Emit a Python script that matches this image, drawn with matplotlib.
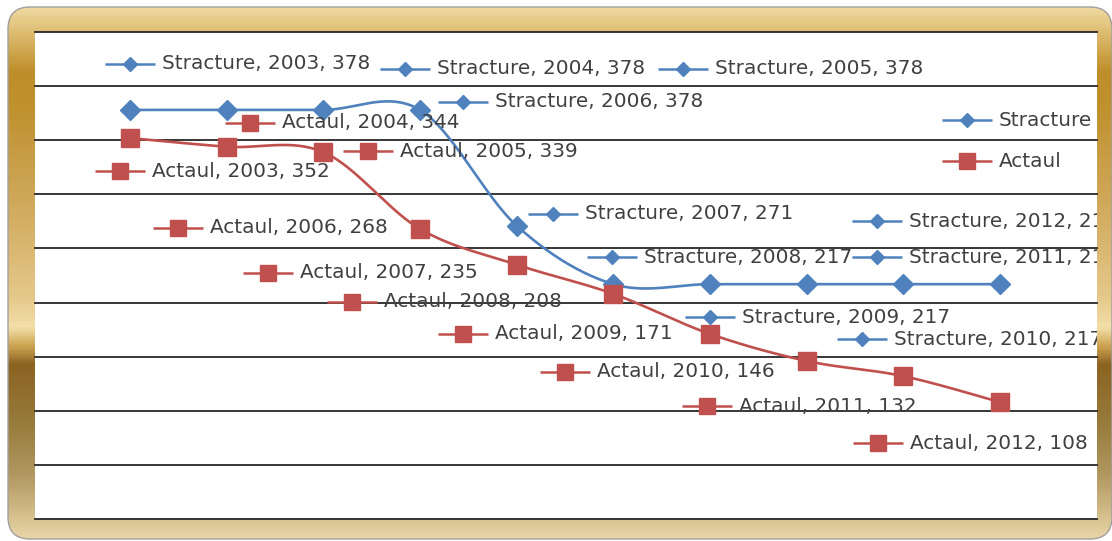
import numpy as np
import matplotlib
matplotlib.use('Agg')
import matplotlib.pyplot as plt
from matplotlib import patches, transforms
from matplotlib.colors import LinearSegmentedColormap

years = ['2003', '2004', '2005', '2006', '2007', '2008', '2009', '2010', '2011', '2012']
stracture = [378, 378, 378, 378, 271, 217, 217, 217, 217, 217]
actaul = [352, 344, 339, 268, 235, 208, 171, 146, 132, 108]

# where each data label key sits, pixels from its point (right, down)
stracture_label_offsets = [(0, -46), (178, -41), (360, -41), (43, -8), (36, -12),
                           (-1, -27), (0, 33), (55, 55), (-26, -27), (-123, -63)]
actaul_label_offsets = [(-10, 33), (23, -24), (45, -1), (-242, -1), (-249, 8),
                        (-261, 8), (-247, 0), (-242, 11), (-196, 30), (-122, 41)]

W, H, DPI = 1112, 541, 100
BLUE, RED = '#4F81BD', '#C0504D'
TXT = '#404040'
FS = 14.4


def smooth(vals, n=40):
    # excel-like smoothed line (catmull-rom bezier)
    p = np.column_stack([np.arange(len(vals)), vals]).astype(float)
    ext = np.vstack([p[0], p, p[-1]])
    t = np.linspace(0, 1, n)[:, None]
    out = []
    for i in range(len(p) - 1):
        p0, p1, p2, p3 = ext[i], ext[i + 1], ext[i + 2], ext[i + 3]
        c1 = p1 + (p2 - p0) / 6
        c2 = p2 - (p3 - p1) / 6
        seg = (1 - t) ** 3 * p1 + 3 * (1 - t) ** 2 * t * c1 + 3 * (1 - t) * t ** 2 * c2 + t ** 3 * p2
        out.append(seg if i == 0 else seg[1:])
    return np.vstack(out).T


def px_shift(dx, dy):
    return transforms.ScaledTranslation(dx / DPI, -dy / DPI, fig.dpi_scale_trans)


def draw_key(ax, x, y, tr, color, marker, ms, text):
    ax.plot(x, y, marker='_', ms=36, mew=1.8, color=color, transform=tr, zorder=4)
    ax.plot(x, y, marker=marker, ms=ms, color=color, mec=color, transform=tr, zorder=5)
    ax.text(x, y, text, transform=tr + px_shift(32, 0), va='center', ha='left',
            fontsize=FS, color=TXT, clip_on=True, zorder=6)


fig = plt.figure(figsize=(W / DPI, H / DPI), dpi=DPI)
fig.patch.set_facecolor('white')

# gold frame
bg = fig.add_axes([0, 0, 1, 1])
bg.set_xlim(0, W)
bg.set_ylim(H, 0)
bg.axis('off')
gold = LinearSegmentedColormap.from_list('gold', [
    (0.00, '#F2E0B0'), (0.013, '#EED9A0'), (0.07, '#D9B565'), (0.13, '#BE8E2A'),
    (0.20, '#BF912F'), (0.37, '#CFA85A'), (0.55, '#E5C88A'), (0.605, '#F3DFA8'),
    (0.64, '#CDA452'), (0.675, '#8B6322'), (0.78, '#977A3A'), (0.88, '#B09860'),
    (1.00, '#EAD7A8')])
im = bg.imshow(np.linspace(0, 1, H)[:, None], cmap=gold, extent=(0, W, H, 0),
               aspect='auto', interpolation='bilinear')
frame = patches.FancyBboxPatch((8, 7), 1104, 532, boxstyle='round,pad=0,rounding_size=22',
                               fc='none', ec='#A0A0A0', lw=1)
bg.add_patch(frame)
im.set_clip_path(frame)

# plot area
ax = fig.add_axes([35 / W, (H - 519) / H, (1097 - 35) / W, (519 - 32) / H])
ax.set_facecolor('white')
ax.set_ylim(0, 450)
ax.set_xlim(-0.983, 10.003)
for s in ax.spines.values():
    s.set_visible(False)
ax.set_xticks([])
ax.set_yticks([])
for v in range(0, 451, 50):
    ax.axhline(v, color='#262626', lw=1.3, clip_on=False, zorder=1)

xs = np.arange(len(years))
sx, sy = smooth(stracture)
ax.plot(sx, sy, color=BLUE, lw=1.9, zorder=2)
ax.plot(xs, stracture, ls='none', marker='D', ms=10, color=BLUE, zorder=3)
ax_, ay = smooth(actaul)
ax.plot(ax_, ay, color=RED, lw=1.9, zorder=2)
ax.plot(xs, actaul, ls='none', marker='s', ms=13, color=RED, zorder=3)

for i, (yr, v) in enumerate(zip(years, stracture)):
    dx, dy = stracture_label_offsets[i]
    draw_key(ax, i, v, ax.transData + px_shift(dx, dy), BLUE, 'D', 7.5,
             f'Stracture, {yr}, {v}')
for i, (yr, v) in enumerate(zip(years, actaul)):
    dx, dy = actaul_label_offsets[i]
    draw_key(ax, i, v, ax.transData + px_shift(dx, dy), RED, 's', 11,
             f'Actaul, {yr}, {v}')

# legend
draw_key(ax, (967 - 35) / 1062, (519 - 120) / 487, ax.transAxes, BLUE, 'D', 7.5, 'Stracture')
draw_key(ax, (967 - 35) / 1062, (519 - 161) / 487, ax.transAxes, RED, 's', 11, 'Actaul')

fig.savefig('out.png', dpi=DPI)
